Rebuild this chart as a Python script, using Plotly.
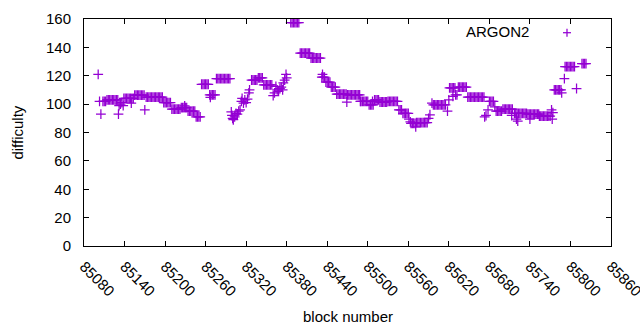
import plotly.graph_objects as go

# block numbers (x) and difficulty (y)
blocks = [
    85101, 85103, 85105,
    85108, 85110, 85112, 85114, 85116, 85118, 85120, 85122, 85124, 85126, 85128, 85130,
    85131, 85132, 85134, 85136, 85138,
    85139, 85141, 85143, 85145, 85147, 85149, 85151, 85153, 85150,
    85155, 85157, 85159, 85161, 85163, 85165, 85167, 85169,
    85170,
    85172, 85174, 85176, 85178, 85180, 85182, 85184, 85186, 85188, 85190, 85192, 85194, 85196,
    85198, 85200, 85202, 85204, 85206, 85208,
    85210, 85212, 85214, 85216, 85218, 85220, 85222,
    85224, 85226, 85228, 85230, 85232, 85229,
    85234, 85236, 85238, 85240, 85242, 85244,
    85246, 85248, 85250, 85252,
    85254, 85256, 85258, 85260, 85262, 85264,
    85266, 85268, 85270, 85272, 85274, 85267,
    85276, 85278, 85280, 85282, 85284, 85286, 85288, 85290, 85292, 85294, 85296,
    85298, 85299, 85300, 85301, 85303, 85305, 85307, 85309, 85311,
    85313, 85314, 85316, 85318, 85320, 85322, 85324, 85325,
    85328, 85330, 85332, 85334, 85336,
    85338, 85340, 85342, 85344,
    85346, 85348, 85350, 85352, 85354, 85356, 85358,
    85360, 85362, 85364, 85366, 85368, 85370, 85372, 85374, 85375, 85377, 85379, 85380,
    85386, 85388, 85390, 85392, 85394, 85396, 85398,
    85400, 85402, 85404, 85406, 85408, 85410, 85412, 85414,
    85416, 85418, 85420, 85422, 85424, 85426, 85428, 85430,
    85432, 85434, 85436, 85433,
    85438, 85440, 85442, 85444,
    85446, 85448, 85450, 85452,
    85454, 85456, 85458, 85460, 85462, 85464, 85466, 85468,
    85469,
    85470, 85472, 85474, 85476, 85478, 85480, 85482, 85484, 85486, 85488,
    85489,
    85490, 85492, 85494, 85496, 85498, 85500,
    85502, 85504, 85506, 85508, 85507,
    85510, 85512, 85514, 85516,
    85518, 85520, 85522, 85524, 85526, 85528,
    85530, 85532, 85534, 85536, 85538, 85540, 85542, 85544,
    85546, 85548, 85550,
    85552, 85554, 85556, 85558, 85560,
    85561, 85563,
    85564, 85566, 85568, 85570, 85571,
    85572, 85574, 85576, 85578, 85580, 85582, 85584, 85586, 85588,
    85590, 85592, 85595,
    85597, 85599, 85601, 85603, 85605, 85607, 85609, 85611, 85613, 85615,
    85618, 85620,
    85621, 85623, 85625, 85627, 85629, 85626,
    85630, 85632,
    85634, 85636, 85638, 85640, 85642, 85644, 85646,
    85648, 85650, 85652, 85654, 85656, 85658, 85660, 85662, 85664, 85666, 85668, 85670, 85672,
    85673, 85675, 85678,
    85680, 85682, 85684, 85686,
    85688,
    85690, 85692, 85694, 85696, 85698,
    85700, 85702, 85704, 85706, 85708, 85710, 85712, 85714,
    85713,
    85717, 85719, 85721, 85723, 85725, 85727, 85729, 85731, 85733, 85735,
    85720, 85722, 85740,
    85737, 85739, 85741, 85743, 85745, 85747, 85749, 85751, 85753,
    85754, 85756, 85758, 85760, 85762, 85764, 85766, 85768, 85770,
    85772, 85773, 85774,
    85776, 85778, 85780, 85782, 85784, 85786, 85787,
    85791,
    85792, 85794, 85796, 85798, 85800, 85802, 85804, 85806,
    85809,
    85817, 85819, 85821, 85823,
]

difficulty = [
    121, 102, 93,
    102, 102, 102, 103, 103, 103, 103, 103, 103, 103, 103, 103,
    93, 99, 100, 101, 99,
    104, 104, 104, 104, 104, 104, 104, 104, 100.7,
    106.4, 106.4, 106.4, 106.4, 106.4, 106.4, 106.4, 106.4,
    96,
    105, 105, 105, 105, 105, 105, 105, 105, 105, 105, 105, 105, 105,
    101, 101, 101, 101, 101, 101,
    96.5, 96.5, 96.5, 96.5, 96.5, 96.5, 96.5,
    97.5, 97.5, 97.5, 97.5, 97.5, 98.8,
    95, 95, 95, 95, 95, 95,
    91, 91, 91, 91,
    114, 114, 114, 114, 114, 114,
    106.5, 106.5, 106.5, 106.5, 106.5, 104.7,
    118, 118, 118, 118, 118, 118, 118, 118, 118, 118, 118,
    94.5, 92, 90, 89, 91, 93.5, 93, 95, 96,
    102, 104, 100.7, 103, 101, 103.5, 108, 110,
    117, 117, 117, 117, 117,
    118.5, 118.5, 118.5, 118.5,
    113.5, 113.5, 113.5, 113.5, 113.5, 113.5, 113.5,
    106, 108, 112.5, 110, 109, 111, 112, 110, 115, 117, 121, 118.5,
    157.5, 157.5, 157.5, 157.5, 157.5, 157.5, 157.5,
    136, 136, 136, 136, 136, 136, 136, 136,
    132.5, 132.5, 132.5, 132.5, 132.5, 132.5, 132.5, 132.5,
    119, 119, 119, 121,
    115.5, 115.5, 115.5, 115.5,
    112, 112, 112, 112,
    107, 107, 107, 107, 107, 107, 107, 107,
    101.5,
    106.5, 106.5, 106.5, 106.5, 106.5, 106.5, 106.5, 106.5, 106.5, 106.5,
    102,
    102, 102, 102, 102, 102, 102,
    99.5, 99.5, 99.5, 99.5, 102,
    103, 103, 103, 103,
    101.5, 101.5, 101.5, 101.5, 101.5, 101.5,
    102, 102, 102, 102, 102, 102, 102, 102,
    96, 96, 96,
    93.5, 93.5, 93.5, 93.5, 93.5,
    89.5, 87.5,
    86.5, 86.5, 86.5, 86.5, 84,
    87, 87, 87, 87, 87, 87, 87, 87, 87,
    90, 92.5, 100.7,
    99.5, 99.5, 99.5, 99.5, 99.5, 99.5, 99.5, 99.5, 99.5, 99.5,
    95, 103,
    111.5, 111.5, 111.5, 111.5, 111.5, 105.5,
    106.5, 106.5,
    112, 112, 112, 112, 112, 112, 112,
    105, 105, 105, 105, 105, 105, 105, 105, 105, 105, 105, 105, 105,
    91, 92, 96,
    102, 102, 102, 102,
    98,
    95, 95, 95, 95, 95,
    96.5, 96.5, 96.5, 96.5, 96.5, 96.5, 96.5, 96.5,
    92,
    93.5, 93.5, 93.5, 93.5, 93.5, 93.5, 93.5, 93.5, 93.5, 93.5,
    89.5, 88, 89.5,
    93, 93, 93, 93, 93, 93, 93, 93, 93,
    91.5, 91.5, 91.5, 91.5, 91.5, 91.5, 91.5, 91.5, 91.5,
    96, 89.5, 94,
    110, 110, 110, 110, 110, 110, 108,
    118,
    126.5, 126.5, 126.5, 126.5, 126.5, 126.5, 126.5, 126.5,
    111,
    128.5, 128.5, 128.5, 128.5,
]

x_ticks = [85080, 85140, 85200, 85260, 85320, 85380, 85440, 85500,
           85560, 85620, 85680, 85740, 85800, 85860]
y_ticks = [0, 20, 40, 60, 80, 100, 120, 140, 160]

COLOR = "#9400D3"
FONT = "Liberation Sans, Arial, sans-serif"

fig = go.Figure()
fig.add_trace(go.Scatter(
    x=blocks, y=difficulty, mode="markers", name="ARGON2",
    marker=dict(symbol="cross-thin", size=7, color=COLOR,
                line=dict(width=1.25, color=COLOR)),
    showlegend=False,
))

axis_common = dict(
    showline=True, linecolor="black", linewidth=1, mirror="ticks",
    ticks="inside", ticklen=5, tickcolor="black", tickwidth=1,
    showgrid=False, zeroline=False, ticklabeloverflow="allow",
    tickfont=dict(family=FONT, size=15, color="black"),
)

fig.update_layout(
    width=640, height=330,
    margin=dict(l=84, r=29, t=19, b=84, autoexpand=False),
    paper_bgcolor="white", plot_bgcolor="white",
    font=dict(family=FONT, size=15, color="black"),
    xaxis=dict(range=[85080, 85860], tickvals=x_ticks,
               ticktext=[str(v) for v in x_ticks], tickangle=45,
               ticklabelstandoff=5, **axis_common),
    yaxis=dict(range=[0, 160], tickvals=y_ticks,
               ticktext=[str(v) for v in y_ticks],
               ticklabelstandoff=9, **axis_common),
    annotations=[
        dict(text="block number", xref="paper", yref="paper", x=0.5, y=-0.31,
             xanchor="center", yanchor="middle", showarrow=False,
             font=dict(family=FONT, size=15)),
        dict(text="difficulty", xref="paper", yref="paper", x=-0.127, y=0.5,
             xanchor="center", yanchor="middle", showarrow=False, textangle=-90,
             font=dict(family=FONT, size=15)),
        dict(text="ARGON2", xref="paper", yref="paper", x=0.848, y=0.947,
             xanchor="right", yanchor="middle", showarrow=False,
             font=dict(family=FONT, size=15)),
    ],
    shapes=[
        dict(type="line", xref="paper", yref="paper", x0=0.9089, x1=0.9241,
             y0=0.9396, y1=0.9396, line=dict(color=COLOR, width=1.25)),
        dict(type="line", xref="paper", yref="paper", x0=0.9165, x1=0.9165,
             y0=0.9220, y1=0.9572, line=dict(color=COLOR, width=1.25)),
    ],
)

fig.write_html(
    "out.html",
    config={"displayModeBar": False},
    post_script="document.body.style.margin='0';document.body.style.padding='0';",
)
